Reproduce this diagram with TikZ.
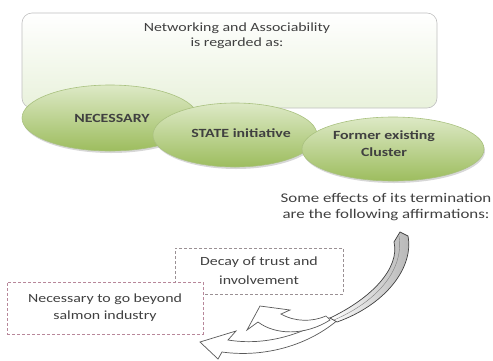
\documentclass[tikz,border=0pt]{standalone}
\usepackage{fontspec}
\setmainfont{Carlito}[FakeStretch=1.27]
\definecolor{txt}{HTML}{404040}
\definecolor{gtop}{HTML}{DDE9C6}
\definecolor{gbot}{HTML}{9DBD5E}
\definecolor{gline}{HTML}{A9C17F}
\definecolor{pinkdash}{HTML}{B8879A}
\definecolor{graydash}{HTML}{9A9094}
\tikzset{
  txtnode/.style={text=txt, font=\fontsize{12.5}{17}\selectfont, align=center, inner sep=0pt},
  boldtxt/.style={txtnode, text=black!75, font=\bfseries\fontsize{12.5}{17}\selectfont},
  bubble/.style={draw=gline, line width=0.6pt, top color=gtop, bottom color=gbot},
  bubbleshadow/.style={fill=black!35, opacity=0.45},
  dashbox/.style={draw=#1, dashed, dash pattern=on 3pt off 2pt, line width=0.8pt, fill=white},
  arrowpart/.style={draw=black!65, line width=0.7pt, fill=white},
}
\begin{document}
\begin{tikzpicture}[x=1pt,y=-1pt]
\useasboundingbox (0,0) rectangle (493,360);
% top rounded box
\draw[draw=black!25, line width=0.6pt, rounded corners=10pt, top color=white, bottom color=green!25!olive!14] (22,13) rectangle (437,108);
\node[txtnode, font=\fontsize{12.5}{15}\selectfont] (title) at (237,36) {Networking and Associability\\is regarded as:};
% ellipses with shadow
\foreach \cx/\cy/\rx/\ry in {110/118/88/33, 235/135/82/32, 393/149/91/32}{
  \path[bubbleshadow] (\cx+1,\cy+2) ellipse ({\rx} and {\ry});
  \path[bubble] (\cx,\cy) ellipse ({\rx} and {\ry});
}
\node[boldtxt] (nec) at (112,118) {NECESSARY};
\node[boldtxt] (state) at (241,133) {STATE initiative};
\node[boldtxt] (former) at (384,143.5) {Former existing\\Cluster};
% effects text
\node[txtnode, font=\fontsize{13.3}{16}\selectfont] (effects) at (386,207) {Some effects of its termination\\are the following affirmations:};
% dashed boxes
\node[dashbox=graydash, minimum width=168pt, minimum height=46pt, txtnode, font=\fontsize{12.5}{19}\selectfont, text=txt] (decay) at (259,271) {Decay of trust and\\involvement};
\node[dashbox=pinkdash, minimum width=196pt, minimum height=52pt, txtnode, text=txt] (beyond) at (105,308) {Necessary to go beyond\\salmon industry};
% curved arrows
\path[arrowpart] (340,318) .. controls (310,345) and (265,358) .. (222,352) -- (218,359) -- (200,342) -- (236,331) -- (228,340) .. controls (265,346) and (300,335) .. (328,318) -- cycle;
\path[arrowpart] (330,320) .. controls (305,336) and (275,335) .. (258,322) -- (247,330) -- (260,306) -- (290,310) -- (281,314) .. controls (295,322) and (312,322) .. (326,316) -- cycle;
\path[draw=black!75, line width=0.7pt, left color=white, right color=black!30] (394,242) -- (400,232) -- (408,236) .. controls (414,268) and (385,305) .. (337,322) -- (330,318) .. controls (372,298) and (400,268) .. (394,242) -- cycle;
\draw[black!50, line width=0.4pt] (399,236) .. controls (404,268) and (380,300) .. (334,320);
\end{tikzpicture}
\end{document}
